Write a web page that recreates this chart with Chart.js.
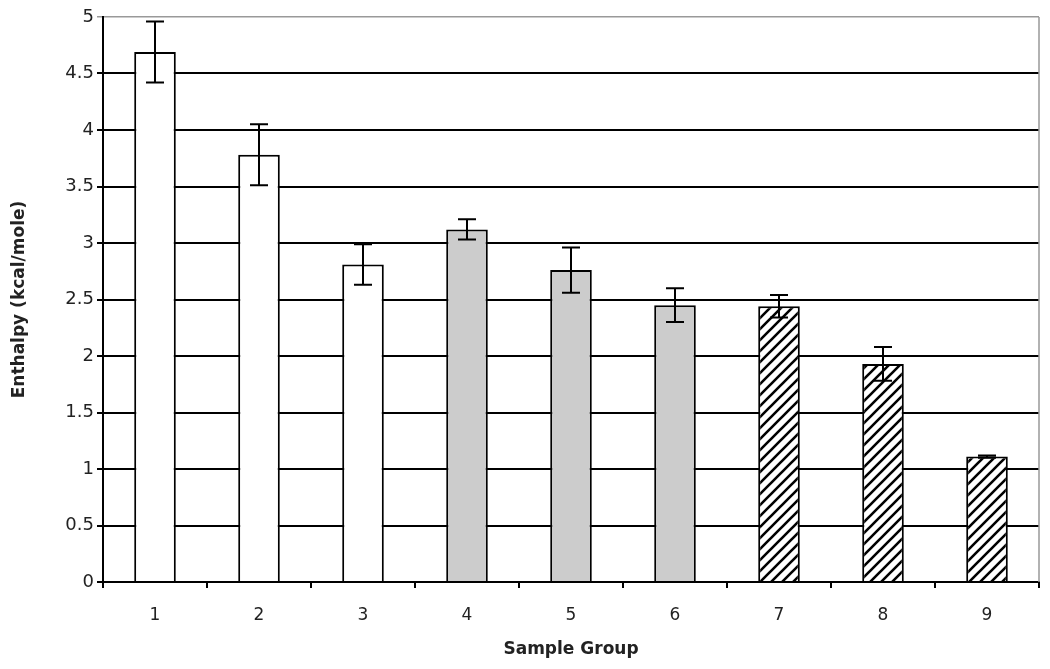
<!DOCTYPE html>
<html>
<head>
<meta charset="utf-8">
<script src="https://cdn.jsdelivr.net/npm/chart.js@4.4.1/dist/chart.umd.min.js"></script>
<style>
  html, body { margin: 0; padding: 0; background: #fff; }
  #wrap { width: 1050px; height: 669px; }
</style>
</head>
<body>
<div id="wrap"><canvas id="enthalpyChart" width="1050" height="669"></canvas></div>
<script>
// data
const groups = ["1", "2", "3", "4", "5", "6", "7", "8", "9"];
const enthalpy = [4.69, 3.78, 2.81, 3.12, 2.76, 2.45, 2.44, 1.93, 1.11];
const errors = [0.27, 0.27, 0.18, 0.09, 0.2, 0.15, 0.1, 0.15, 0.01];
const yTicks = [0, 0.5, 1, 1.5, 2, 2.5, 3, 3.5, 4, 4.5, 5];

// diagonal hatch for groups 7-9
function makeHatch() {
    const c = document.createElement("canvas");
    c.width = 11;
    c.height = 11;
    const g = c.getContext("2d");
    g.fillStyle = "#fff";
    g.fillRect(0, 0, 11, 11);
    g.strokeStyle = "#000";
    g.lineWidth = 2.6;
    g.beginPath();
    g.moveTo(-2, 13); g.lineTo(13, -2);
    g.moveTo(-8, 8); g.lineTo(8, -8);
    g.moveTo(3, 19); g.lineTo(19, 3);
    g.stroke();
    return g.createPattern(c, "repeat");
}

document.addEventListener("DOMContentLoaded", function () {
    const ctx = document.getElementById("enthalpyChart").getContext("2d");
    const hatch = makeHatch();
    const fills = groups.map(function (g, i) {
        if (i < 3) return "#ffffff";
        if (i < 6) return "#cccccc";
        return hatch;
    });

    // error bars + gray frame on the right
    const extras = {
        id: "extras",
        afterDatasetsDraw: function (chart) {
            const c = chart.ctx;
            const x = chart.scales.x;
            const y = chart.scales.y;
            const area = chart.chartArea;
            c.save();
            c.strokeStyle = "#999";
            c.lineWidth = 1.5;
            c.beginPath();
            c.moveTo(area.right, area.top);
            c.lineTo(area.right, area.bottom);
            c.stroke();

            c.strokeStyle = "#000";
            c.lineWidth = 2;
            enthalpy.forEach(function (v, i) {
                const px = x.getPixelForValue(i);
                const top = y.getPixelForValue(v + errors[i]);
                const bot = y.getPixelForValue(v - errors[i]);
                c.beginPath();
                c.moveTo(px, top); c.lineTo(px, bot);
                c.moveTo(px - 9, top); c.lineTo(px + 9, top);
                c.moveTo(px - 9, bot); c.lineTo(px + 9, bot);
                c.stroke();
            });
            c.restore();
        }
    };

    new Chart(ctx, {
        type: "bar",
        data: {
            labels: groups,
            datasets: [
                {
                    data: enthalpy,
                    backgroundColor: fills,
                    borderColor: "#000",
                    borderWidth: 2,
                    categoryPercentage: 1,
                    barPercentage: 0.4,
                },
            ],
        },
        options: {
            responsive: false,
            animation: false,
            layout: { padding: { top: 17, right: 11, left: 0, bottom: 0 } },
            plugins: {
                legend: { display: false },
                tooltip: { enabled: false },
            },
            scales: {
                x: {
                    grid: {
                        offset: true,
                        drawOnChartArea: false,
                        color: "#000",
                        lineWidth: 2,
                        tickLength: 6,
                    },
                    border: { color: "#000", width: 2 },
                    ticks: {
                        color: "#222",
                        padding: 17,
                        font: { family: "DejaVu Sans", size: 17 },
                    },
                    title: {
                        display: true,
                        text: "Sample Group",
                        color: "#222",
                        padding: { top: 4, bottom: 9 },
                        font: { family: "DejaVu Sans", size: 17, weight: "bold" },
                    },
                    afterFit: function (s) { s.height = 87; },
                },
                y: {
                    min: 0,
                    max: 5,
                    afterBuildTicks: function (s) {
                        s.ticks = yTicks.map(function (v) { return { value: v }; });
                    },
                    grid: {
                        color: function (c) {
                            return c.tick && c.tick.value === 5 ? "#999" : "#000";
                        },
                        lineWidth: function (c) {
                            return c.tick && c.tick.value === 5 ? 1.5 : 2;
                        },
                        tickLength: 6,
                    },
                    border: { color: "#000", width: 2 },
                    ticks: {
                        color: "#222",
                        padding: 3,
                        font: { family: "DejaVu Sans", size: 18 },
                        callback: function (v) { return String(v); },
                    },
                    title: {
                        display: true,
                        text: "Enthalpy (kcal/mole)",
                        color: "#222",
                        padding: { top: 9, bottom: 4 },
                        font: { family: "DejaVu Sans", size: 17, weight: "bold" },
                    },
                    afterFit: function (s) { s.width = 103; },
                },
            },
        },
        plugins: [extras],
    });
});
</script>
</body>
</html>
